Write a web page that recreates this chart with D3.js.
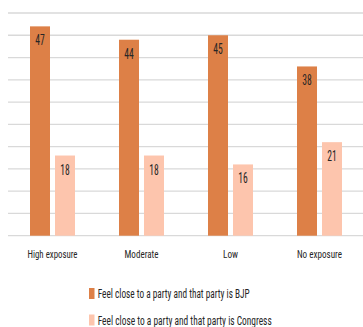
<!DOCTYPE html>
<html>
<head>
<meta charset="utf-8">
<script src="https://cdn.jsdelivr.net/npm/d3@7"></script>
<style>
html,body{margin:0;padding:0;background:#fff;}
svg{display:block;}
text{font-family:"Liberation Sans Narrow","Arial Narrow","Roboto Condensed","Liberation Sans",sans-serif;}
</style>
</head>
<body>
<svg id="chart" width="363" height="327"></svg>
<script>
const categories = ["High exposure", "Moderate", "Low", "No exposure"];
const seriesNames = ["Feel close to a party and that party is BJP", "Feel close to a party and that party is Congress"];
const bjpValues = [47, 44, 45, 38];
const congressValues = [18, 18, 16, 21];
const yTicks = [0, 5, 10, 15, 20, 25, 30, 35, 40, 45, 50];

const colors = ["#DD8047", "#FDC5AD"];
const catWidths = [50, 34, 15, 45];
const legendWidths = [152, 174];

const svg = d3.select("#chart");
const y = d3.scaleLinear().domain([0, 50]).range([235.7, 13]);
const x0 = d3.scaleBand().domain(categories).range([8, 364]);
const x1 = d3.scaleBand().domain(seriesNames).range([0, x0.bandwidth()]).paddingInner(0.2).paddingOuter(0.88);

// gridlines
svg.append("g").selectAll("line").data(yTicks).join("line")
  .attr("x1", 8).attr("x2", 363)
  .attr("y1", d => y(d)).attr("y2", d => y(d))
  .attr("stroke", "#D9D9D9").attr("stroke-width", 1.3);

const data = categories.map((c, i) => ({cat: c, vals: [bjpValues[i], congressValues[i]]}));

const groups = svg.append("g").selectAll("g").data(data).join("g")
  .attr("transform", d => `translate(${x0(d.cat)},0)`);

groups.selectAll("rect").data(d => d.vals.map((v, j) => ({s: seriesNames[j], v, j}))).join("rect")
  .attr("x", d => x1(d.s)).attr("width", x1.bandwidth())
  .attr("y", d => y(d.v)).attr("height", d => y(0) - y(d.v))
  .attr("fill", d => colors[d.j]);

groups.selectAll("text.val").data(d => d.vals.map((v, j) => ({s: seriesNames[j], v, j}))).join("text")
  .attr("class", "val")
  .attr("x", d => x1(d.s) + x1.bandwidth() / 2)
  .attr("y", d => y(d.v) + 19)
  .attr("text-anchor", "middle")
  .attr("font-size", 14)
  .attr("fill", "#262626")
  .attr("textLength", 9.5)
  .attr("lengthAdjust", "spacingAndGlyphs")
  .text(d => d.v);

// category labels
svg.append("g").selectAll("text").data(categories).join("text")
  .attr("x", d => x0(d) + x0.bandwidth() / 2)
  .attr("y", 258)
  .attr("text-anchor", "middle")
  .attr("font-size", 11.5)
  .attr("fill", "#262626")
  .attr("textLength", (d, i) => catWidths[i])
  .attr("lengthAdjust", "spacingAndGlyphs")
  .text(d => d);

// legend
const legend = svg.append("g").selectAll("g").data(seriesNames).join("g")
  .attr("transform", (d, i) => `translate(89,${288 + i * 26.5})`);
legend.append("rect").attr("width", 5.5).attr("height", 11).attr("fill", (d, i) => colors[i]);
legend.append("text")
  .attr("x", 8.7).attr("y", 10)
  .attr("font-size", 12)
  .attr("fill", "#262626")
  .attr("textLength", (d, i) => legendWidths[i])
  .attr("lengthAdjust", "spacingAndGlyphs")
  .text(d => d);
</script>
</body>
</html>
